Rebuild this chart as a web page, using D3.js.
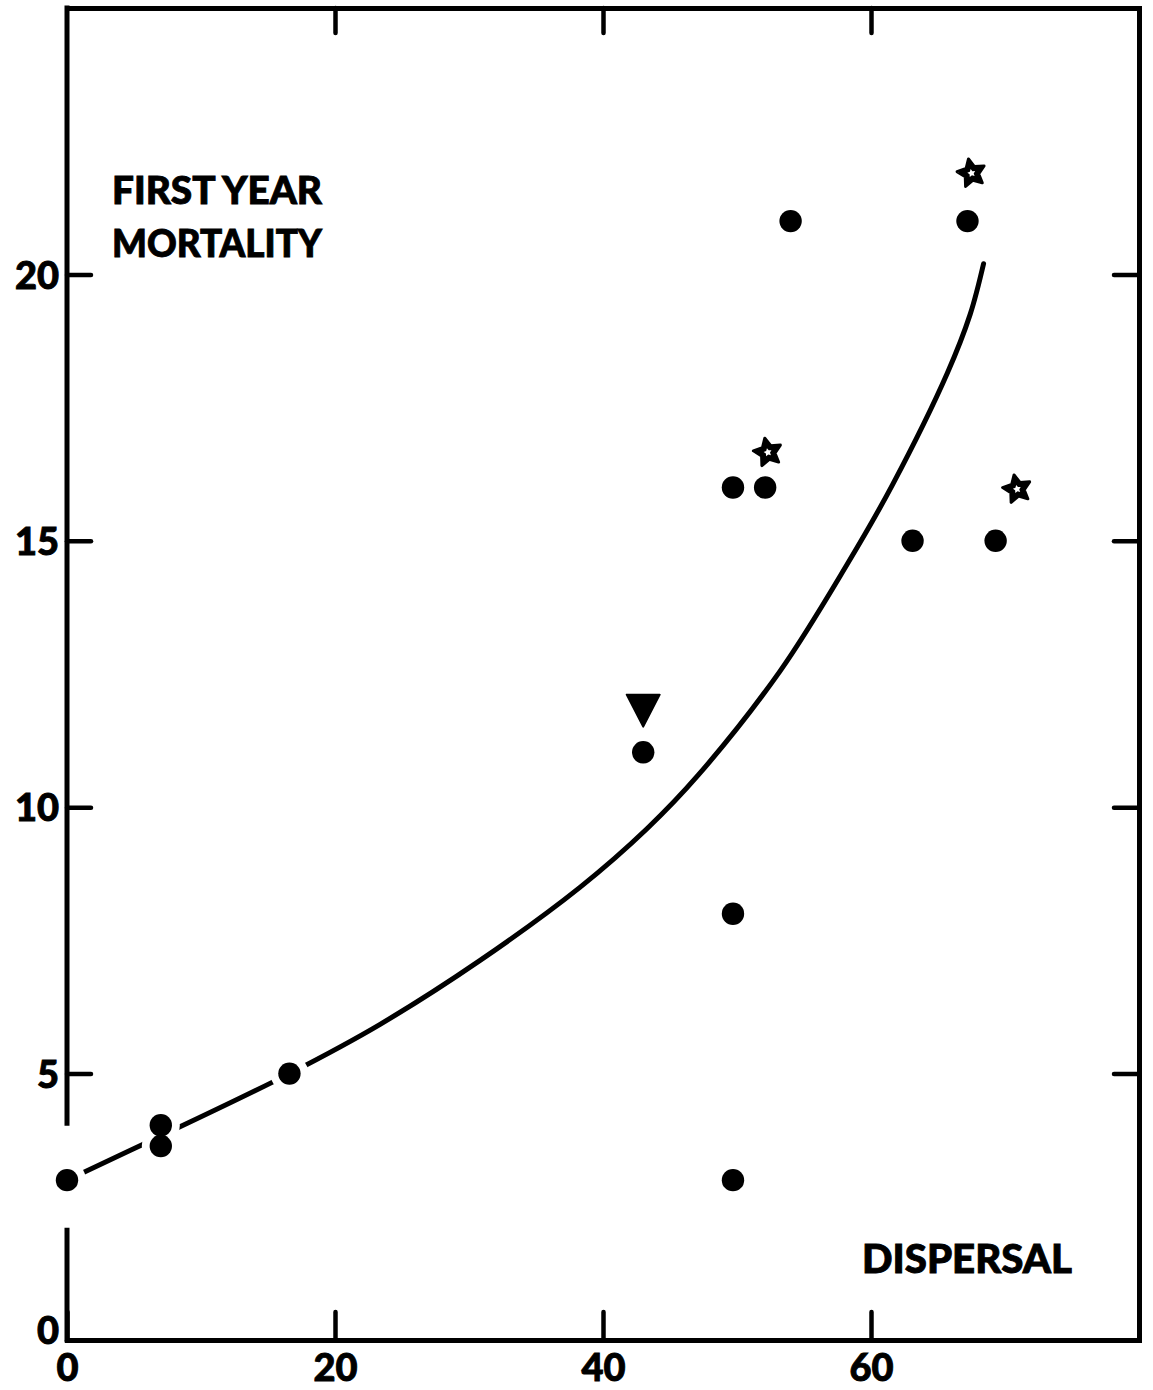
<!DOCTYPE html>
<html>
<head>
<meta charset="utf-8">
<script src="https://cdn.jsdelivr.net/npm/d3@7"></script>
<style>
  html, body { margin: 0; padding: 0; background: #fff; }
  svg { display: block; }
  text { font-family: Lato, "Liberation Sans", "DejaVu Sans", sans-serif; font-weight: 900; fill: #000; stroke: #000; stroke-width: 0.9px; }
</style>
</head>
<body>
<div id="chart"></div>
<script>
// ---- data ----
const xTickValues = [0, 20, 40, 60];
const yTickValues = [0, 5, 10, 15, 20];
const topTickValues = [20, 40, 60];
const rightTickValues = [5, 10, 15, 20];

// filled circles: dispersal (x) vs first-year mortality (y)
const circleX = [0, 7, 7, 16.6, 43, 49.7, 52.1, 54, 63.1, 67.2, 69.3, 49.7, 49.7];
const circleY = [3, 4.03, 3.64, 5, 11.03, 16, 16, 21, 15, 21, 15, 8, 3];
// circles that the fitted curve passes through (curve is broken around them)
const onCurveCircles = [0, 1, 2, 3];

// open stars
const starX = [52.3, 67.5, 70.9];
const starY = [16.66, 21.9, 15.97];

// inverted triangle
const triX = [43];
const triY = [11.85];

// fitted curve
const curveX = [0, 7, 16.6, 23.4, 30.8, 38.3, 43.3, 47.1, 53.2, 58.2, 61.6, 65.7, 67.4, 68.4];
const curveY = [3, 3.83, 5, 5.93, 7.12, 8.5, 9.6, 10.6, 12.55, 14.55, 16.05, 18.15, 19.25, 20.2];

// break in the left axis
const leftAxisGap = [2.06, 4.07];

const yLabelLines = ["FIRST YEAR", "MORTALITY"];
const xLabel = "DISPERSAL";

// ---- drawing ----
const W = 1153, H = 1390;
const svg = d3.select("#chart").append("svg").attr("width", W).attr("height", H);

const x = d3.scaleLinear().domain([0, 80]).range([67, 1139]);
const y = d3.scaleLinear().domain([0, 25]).range([1340, 8]);

const AX = 5, TK = 4.5;

// bottom axis
const gB = svg.append("g").attr("transform", `translate(0,${y(0)})`)
  .call(d3.axisBottom(x).tickValues(xTickValues).tickSizeInner(-28).tickSizeOuter(0).tickPadding(14).tickFormat(d3.format("d")));
// top axis
const gT = svg.append("g").attr("transform", `translate(0,${y(25)})`)
  .call(d3.axisTop(x).tickValues(topTickValues).tickSizeInner(-25).tickSizeOuter(0).tickFormat(""));
// left axis
const gL = svg.append("g").attr("transform", `translate(${x(0)},0)`)
  .call(d3.axisLeft(y).tickValues(yTickValues).tickSizeInner(-24).tickSizeOuter(0).tickPadding(8).tickFormat(d3.format("d")));
// right axis
const gR = svg.append("g").attr("transform", `translate(${x(80)},0)`)
  .call(d3.axisRight(y).tickValues(rightTickValues).tickSizeInner(-25).tickSizeOuter(0).tickFormat(""));

[gB, gT, gL, gR].forEach(g => {
  g.select(".domain").attr("stroke", "#000").attr("stroke-width", AX).attr("stroke-linecap", "square");
  g.selectAll(".tick line").attr("stroke", "#000").attr("stroke-width", TK).attr("stroke-linecap", "round");
  g.selectAll(".tick text").attr("font-size", 38).attr("font-family", null).attr("fill", "#000");
});
gB.selectAll(".tick text").attr("dy", "0.72em");
gL.selectAll(".tick text").attr("dy", "0.36em");
gL.selectAll(".tick").filter(d => d === 0).select("text").attr("dy", "0.1em");

// left axis drawn in two parts (broken around the point at x = 0)
gL.select(".domain").remove();
const leftSegs = [[0, leftAxisGap[0]], [leftAxisGap[1], 25]];
svg.append("g").selectAll("line").data(leftSegs).join("line")
  .attr("x1", x(0)).attr("x2", x(0))
  .attr("y1", d => y(d[0])).attr("y2", d => y(d[1]))
  .attr("stroke", "#000").attr("stroke-width", AX).attr("stroke-linecap", "square");

// fitted curve
const curveData = curveX.map((v, i) => [v, curveY[i]]);
svg.append("path")
  .datum(curveData)
  .attr("d", d3.line().x(d => x(d[0])).y(d => y(d[1])).curve(d3.curveCatmullRom.alpha(0.5)))
  .attr("fill", "none").attr("stroke", "#000").attr("stroke-width", 5).attr("stroke-linecap", "round");

// white gaps around points lying on the curve
svg.append("g").selectAll("circle").data(onCurveCircles).join("circle")
  .attr("cx", i => x(circleX[i])).attr("cy", i => y(circleY[i]))
  .attr("r", 19).attr("fill", "#fff");

// filled circles
svg.append("g").selectAll("circle").data(circleX.map((v, i) => [v, circleY[i]])).join("circle")
  .attr("cx", d => x(d[0])).attr("cy", d => y(d[1]))
  .attr("r", 11.2).attr("fill", "#000");

// stars
function starPath(R, r, rotDeg) {
  const pts = [];
  for (let k = 0; k < 10; k++) {
    const a = (rotDeg + k * 36) * Math.PI / 180;
    const rad = k % 2 === 0 ? R : r;
    pts.push([rad * Math.sin(a), -rad * Math.cos(a)]);
  }
  return "M" + pts.map(p => p[0].toFixed(2) + "," + p[1].toFixed(2)).join("L") + "Z";
}
const stars = svg.append("g").selectAll("g").data(starX.map((v, i) => [v, starY[i]])).join("g")
  .attr("transform", d => `translate(${x(d[0])},${y(d[1])})`);
stars.append("path").attr("d", starPath(14.5, 7.2, -12))
  .attr("fill", "#000").attr("stroke", "#000").attr("stroke-width", 3).attr("stroke-linejoin", "round");
stars.append("path").attr("d", starPath(4.2, 2.2, -12)).attr("fill", "#fff");

// inverted triangle
svg.append("g").selectAll("path").data(triX.map((v, i) => [v, triY[i]])).join("path")
  .attr("transform", d => `translate(${x(d[0])},${y(d[1])})`)
  .attr("d", "M-16.5,-14L16.5,-14L0,18Z")
  .attr("fill", "#000").attr("stroke", "#000").attr("stroke-width", 2).attr("stroke-linejoin", "round");

// axis titles
svg.append("text").attr("x", 112).attr("y", 204).attr("font-size", 38)
  .attr("textLength", 210).attr("lengthAdjust", "spacingAndGlyphs").text(yLabelLines[0]);
svg.append("text").attr("x", 112).attr("y", 257).attr("font-size", 38)
  .attr("textLength", 210).attr("lengthAdjust", "spacingAndGlyphs").text(yLabelLines[1]);
svg.append("text").attr("x", 862).attr("y", 1273).attr("font-size", 39)
  .attr("textLength", 210).attr("lengthAdjust", "spacingAndGlyphs").text(xLabel);
</script>
</body>
</html>
